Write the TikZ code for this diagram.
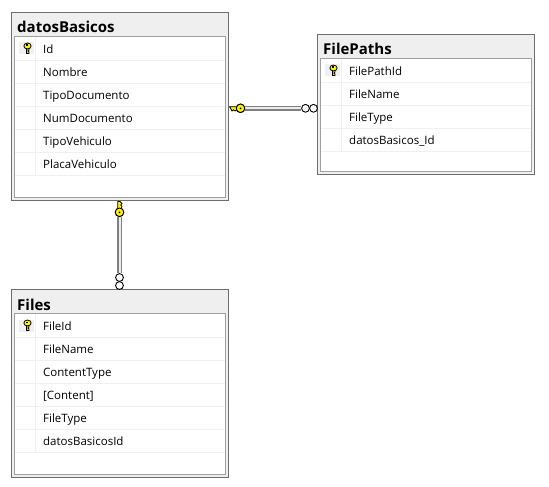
\documentclass[tikz,border=0pt]{standalone}
\usepackage{fontspec}
\setmainfont{Open Sans}
\definecolor{framegray}{HTML}{6E6E6E}
\definecolor{innergray}{HTML}{A0A0A0}
\definecolor{titlegray}{HTML}{EFEFEF}
\definecolor{rowgray}{HTML}{F0F0F0}
\definecolor{keyyellow}{HTML}{FFF200}
\begin{document}
\begin{tikzpicture}[x=1pt, y=-1pt]
    \tikzset{
        tablebox/.style={draw=framegray, line width=1pt, fill=titlegray, inner sep=0pt, minimum width=217pt},
        gridbox/.style={draw=innergray, line width=1pt, fill=white, inner sep=0pt, minimum width=211pt},
        titletext/.style={anchor=base west, inner sep=0pt, font=\fontsize{15}{15}\selectfont\bfseries},
        fieldtext/.style={anchor=base west, inner sep=0pt, font=\fontsize{11.5}{12}\selectfont, text=black},
        rowline/.style={draw=rowgray, line width=1pt},
        keycell/.style={fill=rowgray, draw=none, inner sep=0pt, minimum width=15pt, minimum height=12pt},
        keyshape/.style={draw=black, fill=keyyellow, line width=0.8pt},
        ring/.style={circle, draw=black, fill=white, line width=0.9pt, inner sep=0pt, minimum size=7.8pt},
        keyring/.style={circle, draw=black, fill=keyyellow, line width=0.9pt, inner sep=0pt, minimum size=8.5pt},
        rel/.style={draw=gray, line width=4.5pt}
    }
    \useasboundingbox (0,0) rectangle (549,487);
    % tables
    \node [tablebox, minimum height=188pt] (datosBasicos) at (120,106.5) {};
    \node [tablebox, minimum height=140pt] (filePaths) at (426,104.5) {};
    \node [tablebox, minimum height=188pt] (files) at (120,383.5) {};
    \node [gridbox, minimum height=161pt] (datosGrid) at (120,117) {};
    \node [gridbox, minimum height=113pt] (pathsGrid) at (426,115) {};
    \node [gridbox, minimum height=161pt] (filesGrid) at (120,394) {};
    \node [titletext] (datosTitle) at (17,32.6) {datosBasicos};
    \node [titletext] (pathsTitle) at (323,55) {FilePaths};
    \node [titletext] (filesTitle) at (17,310) {Files};
    % rows
    \foreach \i/\name in {0/Id, 1/Nombre, 2/TipoDocumento, 3/NumDocumento, 4/TipoVehiculo, 5/PlacaVehiculo} {
        \draw [rowline] (15,60.5+23*\i) -- (225,60.5+23*\i);
        \node [fieldtext] (datos\i) at (43,53.5+23*\i) {\name};
    }
    \foreach \i/\name in {0/FilePathId, 1/FileName, 2/FileType, 3/datosBasicos\_Id} {
        \draw [rowline] (321,82.5+23*\i) -- (531,82.5+23*\i);
        \node [fieldtext] (paths\i) at (349,75.5+23*\i) {\name};
    }
    \foreach \i/\name in {0/FileId, 1/FileName, 2/ContentType, 3/{[Content]}, 4/FileType, 5/datosBasicosId} {
        \draw [rowline] (15,337.5+23*\i) -- (225,337.5+23*\i);
        \node [fieldtext] (files\i) at (43,330.5+23*\i) {\name};
    }
    \draw [rowline] (35.5,37) -- (35.5,175);
    \draw [rowline] (341.5,59) -- (341.5,151);
    \draw [rowline] (35.5,314) -- (35.5,452);
    % primary key icons
    \foreach \n/\x/\y in {datosKey/26/48.5, pathsKey/332/70.5, filesKey/26/325.5} {
        \node [keycell] (\n) at (\x,\y) {};
        \draw [keyshape] (\x+0.6,\y-0.5) -- (\x+0.6,\y+5) -- (\x+3,\y+5) -- (\x+3,\y+3.5) -- (\x+2.2,\y+2.5) -- (\x+3,\y+1.5) -- (\x+3,\y-0.5) -- cycle;
        \draw [keyshape] (\x+1.5,\y-2.5) ellipse (3.6 and 3);
        \fill [black] (\x,\y-4) rectangle (\x+1.5,\y-2.8);
    }
    % relations
    \node [ring] (pathsRingA) at (305.5,108.3) {};
    \node [ring] (pathsRingB) at (313.5,108.3) {};
    \node [ring] (filesRingA) at (119.5,277.5) {};
    \node [ring] (filesRingB) at (119.5,285.5) {};
    \node [keyring] (relKeyA) at (240.5,108.3) {};
    \node [keyring] (relKeyB) at (119.5,212.3) {};
    \draw [rel] (relKeyA) -- (pathsRingA);
    \draw [white!85!gray, line width=2pt] (relKeyA.east) -- (pathsRingA.west);
    \draw [rel] (relKeyB) -- (filesRingA);
    \draw [white!85!gray, line width=2pt] (relKeyB.south) -- (filesRingA.north);
    \draw [keyshape] (237,106.7) -- (229.5,106.7) -- (231,109) -- (232,111) -- (233.5,109.8) -- (235,111) -- (237,109.8) -- cycle;
    \draw [keyshape] (117.8,209) -- (117.8,201.5) -- (120,201.5) -- (122,203.5) -- (120.8,205) -- (122,206.5) -- (120.8,209) -- cycle;
    \node [keyring] (relKeyA) at (240.5,108.3) {};
    \node [keyring] (relKeyB) at (119.5,212.3) {};
    \fill [black] (relKeyA) circle (1pt);
    \fill [black] (relKeyB) circle (1pt);
\end{tikzpicture}
\end{document}
